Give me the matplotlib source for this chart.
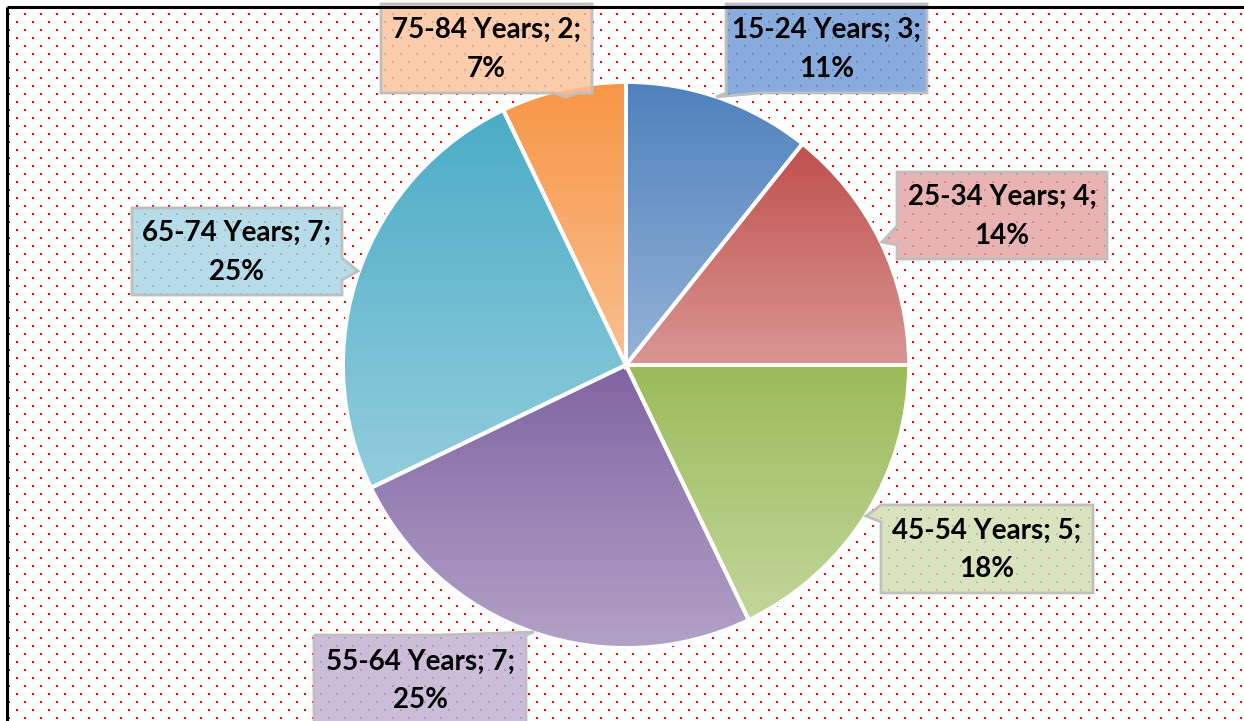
import matplotlib.pyplot as plt
import matplotlib.colors as mcolors
from matplotlib.patches import Polygon
import numpy as np

W, H = 1244, 721

labels = ['15-24 Years', '25-34 Years', '45-54 Years', '55-64 Years', '65-74 Years', '75-84 Years']
values = [3, 4, 5, 7, 7, 2]
top_colors = ['#4F81BD', '#C0504D', '#9BBB59', '#8064A2', '#4BACC6', '#F79646']
bottom_colors = ['#95B3D7', '#D99694', '#C3D69B', '#B3A2C7', '#93CDDD', '#FAC090']
box_colors = ['#6F9AD8', '#E3A3A2', '#D0DFB2', '#BFB0D2', '#A5D5E3', '#FAC29A']

# callout boxes in pixel coords: x0, x1, y0 (top), y1 (bottom), tab side, tab base start/end, tip
boxes = [
    (726, 927, 4, 93, 'bottom', 760, 726, (716, 97)),
    (897, 1107, 172, 259, 'left', 245, 226, (882, 242)),
    (881, 1093, 505, 593, 'left', 522, 505, (866, 516)),
    (314, 526, 635, 740, 'top', 440, 526, (534, 632)),
    (132, 342, 208, 295, 'right', 258, 280, (358, 271)),
    (381, 592, 4, 93, 'bottom', 578, 554, (566, 97)),
]


def py(y):
    return H - y


fig = plt.figure(figsize=(W / 100, H / 100), dpi=100)
ax = fig.add_axes([0, 0, 1, 1])
ax.set_axis_off()

# dotted background
bg = np.ones((H, W, 3))
for k, y in enumerate(range(13, H, 8)):
    for x in range(8 + 8 * (k % 2), W, 16):
        bg[y:y + 2, x:x + 2] = [1, 0, 0]
ax.imshow(bg, extent=[0, W, 0, H], origin='upper', interpolation='nearest', zorder=0)

# frame lines (top and left)
ax.plot([7, W], [py(6.5), py(6.5)], color='black', lw=2.2, zorder=6, solid_capstyle='butt')
ax.plot([7, 7], [py(6.5), 0], color='black', lw=2.2, zorder=6, solid_capstyle='butt')

total = sum(values)
wedges, _ = ax.pie(values, center=(626, py(365)), radius=283, startangle=90,
                   counterclock=False, frame=False,
                   wedgeprops=dict(edgecolor='white', linewidth=2.8))

for w, c1, c2 in zip(wedges, top_colors, bottom_colors):
    ext = w.get_path().get_extents()
    a = np.array(mcolors.to_rgb(c1))
    b = np.array(mcolors.to_rgb(c2))
    t = np.linspace(0, 1, 256)[:, None, None]
    grad = a * (1 - t) + b * t
    grad = np.repeat(grad, 2, axis=1)
    im = ax.imshow(grad, extent=[ext.x0, ext.x1, ext.y0, ext.y1], origin='upper',
                   aspect='auto', zorder=2)
    im.set_clip_path(w)
    w.set_facecolor('none')
    w.set_zorder(3)

for lab, v, col, bx in zip(labels, values, box_colors, boxes):
    x0, x1, y0, y1, side, s1, s2, tip = bx
    if side == 'bottom':
        pts = [(x0, y0), (x1, y0), (x1, y1), (s1, y1), tip, (s2, y1), (x0, y1)]
    elif side == 'top':
        pts = [(x0, y0), (s1, y0), tip, (s2, y0), (x1, y0), (x1, y1), (x0, y1)]
    elif side == 'left':
        pts = [(x0, y0), (x1, y0), (x1, y1), (x0, y1), (x0, s1), tip, (x0, s2)]
    else:
        pts = [(x0, y0), (x1, y0), (x1, s1), tip, (x1, s2), (x1, y1), (x0, y1)]
    pts = [(p[0], py(p[1])) for p in pts]
    ax.add_patch(Polygon(pts, closed=True, facecolor=col, alpha=0.82,
                         edgecolor='none', zorder=4))
    ax.add_patch(Polygon(pts, closed=True, facecolor='none',
                         edgecolor='#BFBFBF', lw=2, zorder=5))
    pct = round(v / total * 100)
    cy = (y0 + y1) / 2 + 1 if side != 'top' else y0 + 46
    ax.text((x0 + x1) / 2, py(cy), f'{lab}; {v};\n{pct}%', ha='center', va='center',
            fontsize=20, fontweight='bold', family=['Lato', 'DejaVu Sans'],
            linespacing=1.6, color='black', zorder=6)

ax.set_xlim(0, W)
ax.set_ylim(0, H)
fig.savefig('out.png', dpi=100)
